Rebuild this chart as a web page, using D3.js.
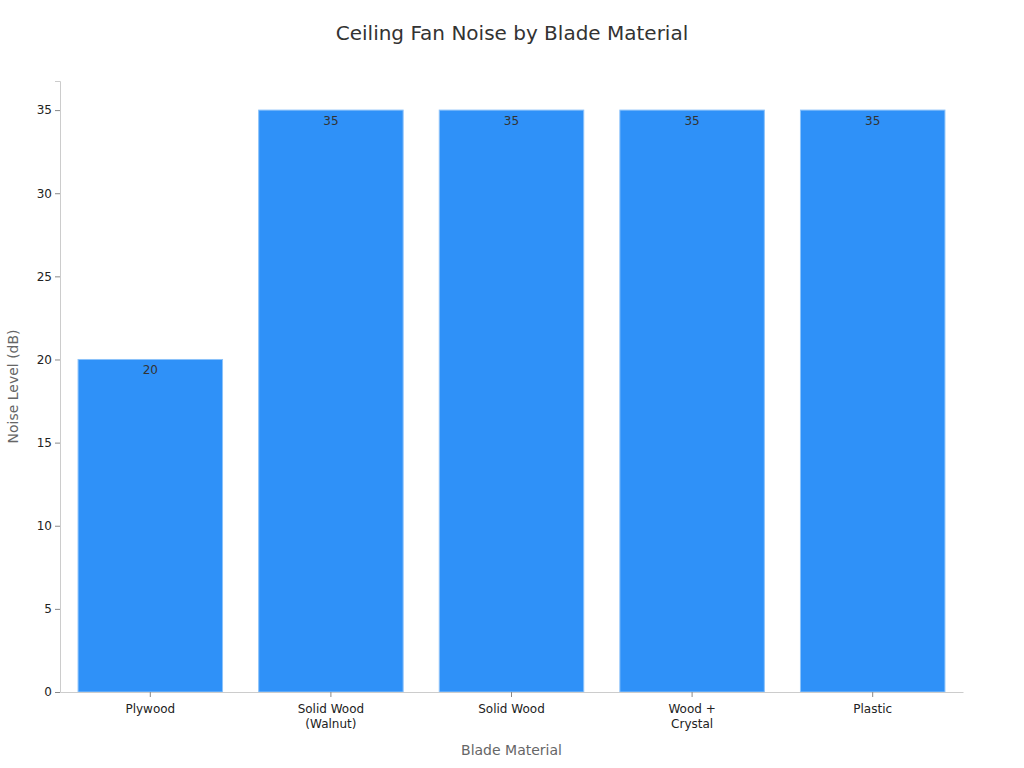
<!DOCTYPE html>
<html>
<head>
<meta charset="utf-8">
<script src="https://cdn.jsdelivr.net/npm/d3@7"></script>
<style>
  body { margin: 0; background: #fff; font-family: "DejaVu Sans", sans-serif; }
</style>
</head>
<body>
<div id="chart"></div>
<script>
// data
var materials = ["Plywood", "Solid Wood\n(Walnut)", "Solid Wood", "Wood +\nCrystal", "Plastic"];
var noiseDb = [20, 35, 35, 35, 35];
var yTicks = [0, 5, 10, 15, 20, 25, 30, 35];

var W = 1024, H = 768;
var margin = {top: 81, right: 61, bottom: 76, left: 60},
    width = W - margin.left - margin.right,
    height = H - margin.top - margin.bottom;

var svg = d3.select("#chart")
  .append("svg")
    .attr("width", W)
    .attr("height", H);

var g = svg.append("g")
    .attr("transform", "translate(" + margin.left + "," + margin.top + ")");

var x = d3.scaleBand()
  .domain(materials)
  .range([0, width])
  .paddingInner(0.2)
  .paddingOuter(0.1);

var y = d3.scaleLinear()
  .domain([0, 35 * 1.05])
  .range([height, 0]);

// title
svg.append("text")
  .attr("x", W / 2)
  .attr("y", 40)
  .attr("text-anchor", "middle")
  .style("font-size", "20px")
  .style("fill", "#333")
  .text("Ceiling Fan Noise by Blade Material");

// bars
g.selectAll("rect.bar")
  .data(materials)
  .enter()
  .append("rect")
    .attr("class", "bar")
    .attr("x", function(d) { return x(d); })
    .attr("width", x.bandwidth())
    .attr("y", function(d, i) { return y(noiseDb[i]); })
    .attr("height", function(d, i) { return height - y(noiseDb[i]); })
    .style("fill", "#2f91f8")
    .attr("stroke", "#8cc3fa")
    .attr("stroke-width", 1);

// value labels
g.selectAll("text.val")
  .data(materials)
  .enter()
  .append("text")
    .attr("class", "val")
    .attr("x", function(d) { return x(d) + x.bandwidth() / 2; })
    .attr("y", function(d, i) { return y(noiseDb[i]) + 15; })
    .attr("text-anchor", "middle")
    .style("font-size", "12px")
    .style("fill", "#333")
    .text(function(d, i) { return noiseDb[i]; });

// Y axis
var yAxis = g.append("g")
  .call(d3.axisLeft(y).tickValues(yTicks).tickSize(5).tickPadding(3));
yAxis.select(".domain").attr("stroke", "#ccc");
yAxis.selectAll(".tick line").attr("stroke", "#888");
yAxis.selectAll("text").style("font-size", "12px").style("fill", "#222").style("font-family", "DejaVu Sans");

// X axis
var xAxis = g.append("g")
  .attr("transform", "translate(0," + height + ")")
  .call(d3.axisBottom(x).tickSize(5).tickSizeOuter(0).tickPadding(7));
xAxis.select(".domain").attr("stroke", "#ccc");
xAxis.selectAll(".tick line").attr("stroke", "#888");
xAxis.selectAll("text")
  .style("font-size", "12px")
  .style("fill", "#222")
  .style("font-family", "DejaVu Sans")
  .each(function(d) {
    var t = d3.select(this), lines = d.split("\n");
    t.text(null);
    lines.forEach(function(l, i) {
      t.append("tspan").attr("x", 0).attr("dy", i === 0 ? "0.71em" : "1.3em").text(l);
    });
  });

// axis titles
svg.append("text")
  .attr("x", margin.left + width / 2)
  .attr("y", 755)
  .attr("text-anchor", "middle")
  .style("font-size", "14px")
  .style("fill", "#666")
  .text("Blade Material");

svg.append("text")
  .attr("transform", "translate(18," + (margin.top + height / 2) + ")rotate(-90)")
  .attr("text-anchor", "middle")
  .style("font-size", "14px")
  .style("fill", "#666")
  .text("Noise Level (dB)");
</script>
</body>
</html>
